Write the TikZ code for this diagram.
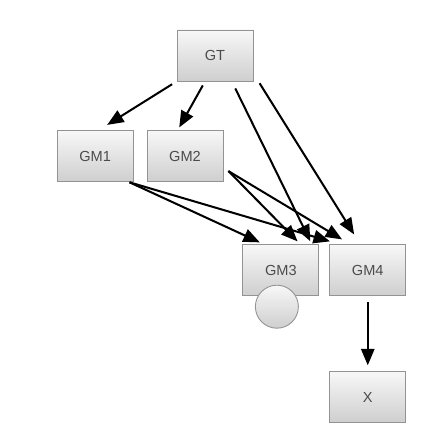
\documentclass[tikz,border=0pt]{standalone}
\usepackage{fontspec}
\setmainfont{Liberation Sans}
\usetikzlibrary{positioning,arrows,shapes}

\begin{document}
\begin{tikzpicture}[node distance=1cm and 1cm,
    box/.style={rectangle, draw=gray!85, line width=0.5pt, top color=gray!6, bottom color=gray!38,
      minimum width=1.52cm, minimum height=1.02cm, inner sep=0pt, text=black!70,
      font=\fontsize{8.3}{10}\selectfont},
    link/.style={->, >=triangle 45, line width=1.15pt}]

    \useasboundingbox (0,0) rectangle (8.74,-8.84);

    % Set nodes
    \node[box] (gt) at (4.30,-1.11) {GT};
    \node[box, below left=0.98cm and 0.86cm of gt] (gm1) {GM1};
    \node[box, right=0.26cm of gm1] (gm2) {GM2};
    \node[box, below right=1.24cm and 0.38cm of gm2] (gm3) {GM3};
    \node[box, right=0.2cm of gm3] (gm4) {GM4};
    \node[box, below=1.5cm of gm4] (x) {X};
    \node[circle, draw=gray!85, line width=0.5pt, top color=gray!6, bottom color=gray!38,
      minimum size=0.86cm, inner sep=0pt, xshift=-0.08cm, yshift=-0.21cm] (c3) at (gm3.south) {};

    % Draw arrows
    \draw[link, shorten <=3pt, shorten >=6pt] (gt.south west) -- (gm1.83);
    \draw[link, shorten <=2.6pt, shorten >=2pt] (gt.249) -- (gm2.106);
    \draw[link, shorten <=4.4pt, shorten >=2pt] (gt.303) -- (gm3.40);
    \draw[link, shorten <=6.6pt, shorten >=6.7pt] (gt.335) -- (gm4.106);
    \draw[link, shorten >=2.7pt] (gm1.323) -- (gm3.123);
    \draw[link, shorten >=6pt] (gm1.323) -- (gm4.137);
    \draw[link, shorten <=4pt, shorten >=2.4pt] (gm2.346) -- (gm3.53);
    \draw[link, shorten <=3.3pt, shorten >=5.5pt] (gm2.343) -- (gm4.124);
    \draw[link, shorten <=3.4pt, shorten >=3.4pt] (gm4) -- (x);
  \end{tikzpicture}
\end{document}
